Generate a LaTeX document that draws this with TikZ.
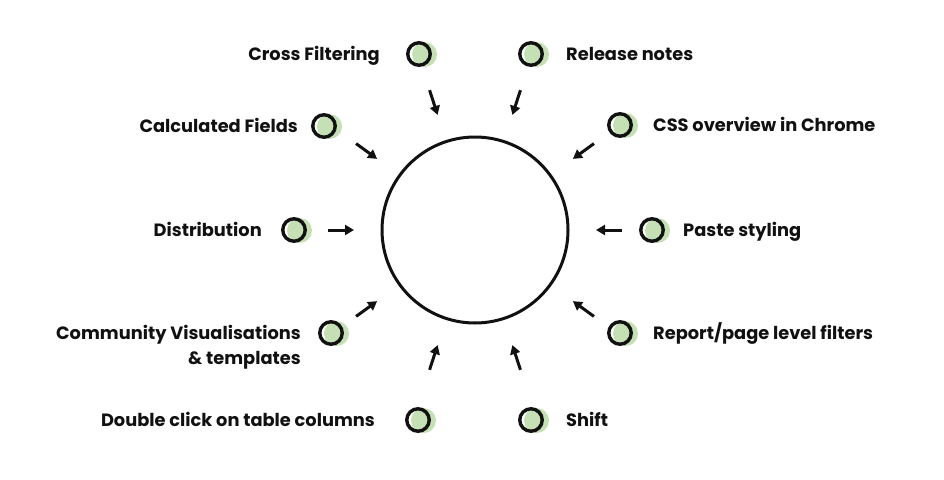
\documentclass[tikz,border=0pt]{standalone}
\usepackage{fontspec}
\setmainfont{Poppins}
\usetikzlibrary{calc,arrows.meta}
\definecolor{hub-text}{HTML}{111111}
\definecolor{hub-green}{HTML}{C5E0B4}

\begin{document}
\begin{tikzpicture}[x=1pt, y=-1pt,
    dot/.style={circle, draw=hub-text, line width=3.4pt, minimum size=22.5pt, inner sep=0pt},
    item/.style={font=\bfseries\fontsize{17.8}{25}\selectfont, text=hub-text, inner sep=0pt},
    arr/.style={-{Triangle[length=9pt,width=10pt]}, line width=3pt, hub-text}]
    \useasboundingbox (0,0) rectangle (944,479);
    % Centre circle
    \node[circle, draw=hub-text, line width=3pt, minimum size=186pt] (hub) at (475,230) {};
    % Dots, labels and arrows round the circle
    \foreach \n/\x/\y/\a/\pos/\lx/\txt in {
        1/419/54/-108/east/380/{Cross Filtering},
        2/531/54/-72/west/566/{Release notes},
        3/324/126/-144/east/298/{Calculated Fields},
        4/620/125/-36/west/653/{CSS overview in Chrome},
        5/294/230/180/east/262/{Distribution},
        6/652/230/0/west/683/{Paste styling},
        8/620/333/36/west/653/{Report/page level filters},
        9/418/420/108/east/375/{Double click on table columns},
        10/531/420/72/west/566/{Shift}} {
        \fill[hub-green] (\x+5.5,\y+0.5) circle (12.5pt);
        \node[dot] (d\n) at (\x,\y) {};
        \node[item, anchor=base \pos] (l\n) at (\lx,\y+6) {\txt};
        \coordinate (t\n) at ($(hub.center)+(\a:147)$);
        \coordinate (h\n) at ($(hub.center)+(\a:121)$);
        \draw[arr] (t\n) -- (h\n);
    }
    % Two-line label
    \fill[hub-green] (336.5,333.5) circle (12.5pt);
    \node[dot] (d7) at (331,333) {};
    \node[item, align=right, anchor=base east] (l7) at (301,364) {Community Visualisations\\\& templates};
    \coordinate (t7) at ($(hub.center)+(144:147)$);
    \coordinate (h7) at ($(hub.center)+(144:121)$);
    \draw[arr] (t7) -- (h7);
\end{tikzpicture}
\end{document}
